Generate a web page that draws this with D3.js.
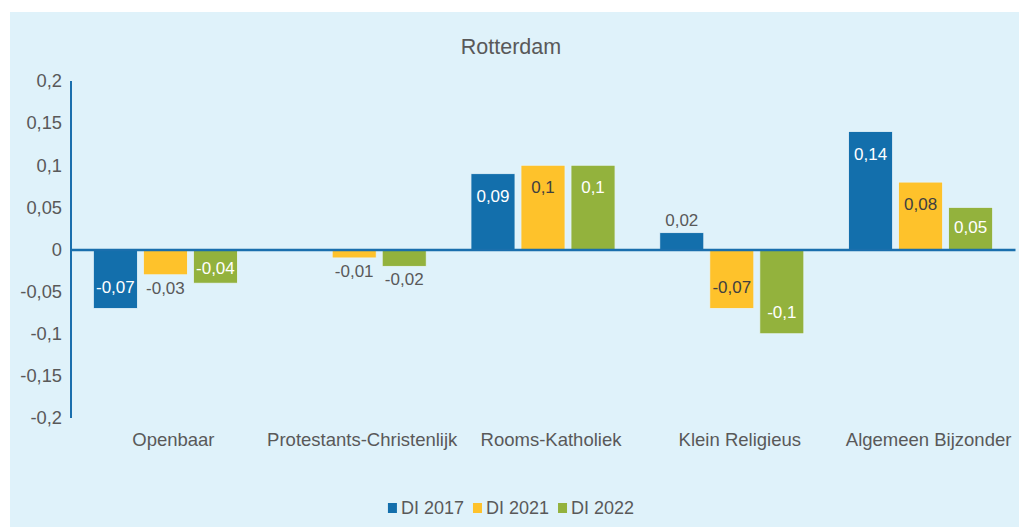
<!DOCTYPE html>
<html>
<head>
<meta charset="utf-8">
<script src="https://cdn.jsdelivr.net/npm/d3@7"></script>
<style>
  html, body { margin: 0; padding: 0; background: #ffffff; }
  svg { display: block; }
  text { font-family: "Liberation Sans", Arial, sans-serif; }
</style>
</head>
<body>
<svg id="chart" width="1019" height="527"></svg>
<script>
// Chart data
const title = "Rotterdam";
const categories = ["Openbaar", "Protestants-Christenlijk", "Rooms-Katholiek", "Klein Religieus", "Algemeen Bijzonder"];
const seriesNames = ["DI 2017", "DI 2021", "DI 2022"];
const di2017 = [-0.07, null, 0.09, 0.02, 0.14];
const di2021 = [-0.03, -0.01, 0.1, -0.07, 0.08];
const di2022 = [-0.04, -0.02, 0.1, -0.1, 0.05];
const yTicks = [0.2, 0.15, 0.1, 0.05, 0, -0.05, -0.1, -0.15, -0.2];

const seriesValues = [di2017, di2021, di2022];
const colors = ["#136FAC", "#FEC22B", "#93B23D"];
const insideLabelColors = ["#ffffff", "#404040", "#ffffff"];
const textColor = "#595959";
const axisColor = "#1A6FAD";

const nl = d3.formatLocale({ decimal: ",", thousands: ".", grouping: [3], currency: ["€", ""], minus: "-" });
const fmt = nl.format("~g");

const svg = d3.select("#chart");
const W = 1019, H = 527;

// Panel background
svg.append("rect")
  .attr("x", 10).attr("y", 12)
  .attr("width", W - 10).attr("height", H - 12)
  .attr("fill", "#DFF2FA");

const plot = { left: 71, right: 1015, top: 81, bottom: 418 };

const x0 = d3.scaleBand()
  .domain(categories)
  .range([plot.left, plot.right])
  .paddingInner(0.237)
  .paddingOuter(0.1185);

const x1 = d3.scaleBand()
  .domain(seriesNames)
  .range([0, x0.bandwidth()])
  .paddingInner(0.12)
  .paddingOuter(0);

const y = d3.scaleLinear()
  .domain([-0.2, 0.2])
  .range([plot.bottom, plot.top]);

// Title
svg.append("text")
  .attr("x", 511).attr("y", 54)
  .attr("text-anchor", "middle")
  .attr("font-size", 21.5)
  .attr("fill", textColor)
  .text(title);

// Y axis labels
const yAxis = d3.axisLeft(y)
  .tickValues(yTicks)
  .tickFormat(fmt)
  .tickSize(0)
  .tickPadding(9);

const yG = svg.append("g")
  .attr("transform", `translate(${plot.left},0)`)
  .call(yAxis);
yG.select(".domain").remove();
yG.selectAll("text")
  .attr("font-size", 18.3)
  .attr("font-family", "\"Liberation Sans\", Arial, sans-serif")
  .attr("fill", textColor);

// Bars
const flat = [];
categories.forEach((c, i) => {
  seriesNames.forEach((s, j) => {
    const v = seriesValues[j][i];
    if (v !== null) flat.push({ cat: c, series: s, j, v });
  });
});

const bars = svg.append("g");
bars.selectAll("rect")
  .data(flat)
  .join("rect")
  .attr("x", d => x0(d.cat) + x1(d.series))
  .attr("width", x1.bandwidth())
  .attr("y", d => Math.min(y(d.v), y(0)))
  .attr("height", d => Math.abs(y(d.v) - y(0)))
  .attr("fill", d => colors[d.j])
  .attr("stroke", "#E6F4FA")
  .attr("stroke-width", 0.8);

// Y axis line and zero baseline
svg.append("line")
  .attr("x1", plot.left).attr("x2", plot.left)
  .attr("y1", plot.top).attr("y2", plot.bottom)
  .attr("stroke", axisColor).attr("stroke-width", 2);

const xAxis = d3.axisBottom(x0).tickSize(0).tickPadding(0);
const xG = svg.append("g")
  .attr("transform", `translate(0,${y(0)})`)
  .call(xAxis);
xG.select(".domain")
  .attr("stroke", axisColor)
  .attr("stroke-width", 2.5);
xG.selectAll("text").remove();

// Category labels
svg.append("g").selectAll("text")
  .data(categories)
  .join("text")
  .attr("x", d => x0(d) + x0.bandwidth() / 2 + 8)
  .attr("y", 446)
  .attr("text-anchor", "middle")
  .attr("font-size", 18.5)
  .attr("fill", textColor)
  .text(d => d);

// Data labels
svg.append("g").selectAll("text")
  .data(flat)
  .join("text")
  .each(function (d) {
    const end = y(d.v);
    const len = Math.abs(end - y(0));
    const dir = d.v >= 0 ? 1 : -1; // 1 = bar goes up
    let cy, fill;
    if (len >= 30) {
      cy = end + dir * Math.min(22, len / 2 - 2);
      fill = insideLabelColors[d.j];
    } else {
      cy = end - dir * 13;
      fill = textColor;
    }
    d3.select(this)
      .attr("x", x0(d.cat) + x1(d.series) + x1.bandwidth() / 2)
      .attr("y", cy)
      .attr("dy", "0.36em")
      .attr("fill", fill);
  })
  .attr("text-anchor", "middle")
  .attr("font-size", 17)
  .text(d => fmt(d.v));

// Legend
const legend = svg.append("g");
const items = legend.selectAll("g")
  .data(seriesNames)
  .join("g");
items.append("rect")
  .attr("width", 9).attr("height", 10)
  .attr("y", 503)
  .attr("fill", (d, i) => colors[i]);
items.append("text")
  .attr("x", 13).attr("y", 514)
  .attr("font-size", 18)
  .attr("fill", textColor)
  .text(d => d);

let widths = [];
items.each(function () {
  widths.push(d3.select(this).select("text").node().getComputedTextLength() + 13);
});
const gap = 9;
const total = d3.sum(widths) + gap * (widths.length - 1);
let cx = 511 - total / 2;
items.each(function (d, i) {
  d3.select(this).attr("transform", `translate(${cx},0)`);
  cx += widths[i] + gap;
});
</script>
</body>
</html>
